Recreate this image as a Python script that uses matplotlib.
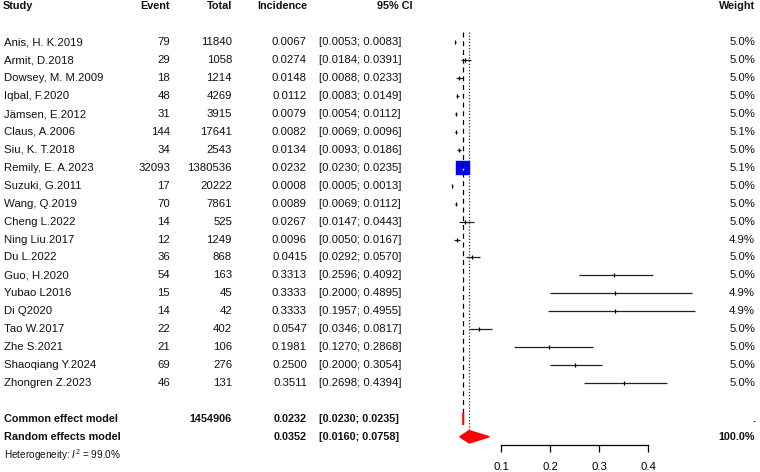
import numpy as np
import matplotlib.pyplot as plt

studies = ["Anis, H. K.2019", "Armit, D.2018", "Dowsey, M. M.2009", "Iqbal, F.2020",
           "Jämsen, E.2012", "Claus, A.2006", "Siu, K. T.2018", "Remily, E. A.2023",
           "Suzuki, G.2011", "Wang, Q.2019", "Cheng L.2022", "Ning Liu.2017", "Du L.2022",
           "Guo, H.2020", "Yubao L2016", "Di Q2020", "Tao W.2017", "Zhe S.2021",
           "Shaoqiang Y.2024", "Zhongren Z.2023"]
events = [79, 29, 18, 48, 31, 144, 34, 32093, 17, 70, 14, 12, 36, 54, 15, 14, 22, 21, 69, 46]
totals = [11840, 1058, 1214, 4269, 3915, 17641, 2543, 1380536, 20222, 7861, 525, 1249, 868,
          163, 45, 42, 402, 106, 276, 131]
incidence = [0.0067, 0.0274, 0.0148, 0.0112, 0.0079, 0.0082, 0.0134, 0.0232, 0.0008, 0.0089,
             0.0267, 0.0096, 0.0415, 0.3313, 0.3333, 0.3333, 0.0547, 0.1981, 0.2500, 0.3511]
ci_lower = [0.0053, 0.0184, 0.0088, 0.0083, 0.0054, 0.0069, 0.0093, 0.0230, 0.0005, 0.0069,
            0.0147, 0.0050, 0.0292, 0.2596, 0.2000, 0.1957, 0.0346, 0.1270, 0.2000, 0.2698]
ci_upper = [0.0083, 0.0391, 0.0233, 0.0149, 0.0112, 0.0096, 0.0186, 0.0235, 0.0013, 0.0112,
            0.0443, 0.0167, 0.0570, 0.4092, 0.4895, 0.4955, 0.0817, 0.2868, 0.3054, 0.4394]
weights = [5.0, 5.0, 5.0, 5.0, 5.0, 5.1, 5.0, 5.1, 5.0, 5.0, 5.0, 4.9, 5.0, 5.0, 4.9, 4.9,
           5.0, 5.0, 5.0, 5.0]

common = dict(total=1454906, est=0.0232, lo=0.0230, hi=0.0235)
random_ = dict(est=0.0352, lo=0.0160, hi=0.0758)
i2 = 99.0
xticks = [0.1, 0.2, 0.3, 0.4]

plt.rcParams['font.family'] = ['Liberation Sans', 'DejaVu Sans']
plt.rcParams['mathtext.fontset'] = 'custom'
plt.rcParams['mathtext.rm'] = 'Liberation Sans'
plt.rcParams['mathtext.it'] = 'Liberation Sans:italic'

W, H = 760, 472
FS = 8.2
FS_BOLD = 7.8
row0, row_h = 42.3, 17.93     # pixel centre of first study row, row height
axis_y = 444.5                # pixel position of the x axis line
zero_x, px_per_unit = 452.0, 490.0

fig = plt.figure(figsize=(W / 100, H / 100), dpi=100)
ax = fig.add_axes([0, (H - axis_y) / H, 1, axis_y / H])
ax.set_xlim(-zero_x / px_per_unit, (W - zero_x) / px_per_unit)
ax.set_ylim((axis_y - row0) / row_h, -row0 / row_h)

tr = ax.get_yaxis_transform()


def put(xpx, row, s, ha, bold=False, size=None):
    if size is None:
        size = FS_BOLD if bold else FS
    ax.text(xpx / W, row, s, transform=tr, ha=ha, va='center', fontsize=size,
            fontweight='bold' if bold else 'normal', color='#111111')


# header
hdr = -2
put(3, hdr, "Study", 'left', True)
put(170, hdr, "Event", 'right', True)
put(232, hdr, "Total", 'right', True)
put(307, hdr, "Incidence", 'right', True)
put(377, hdr, "95% CI", 'left', True)
put(755, hdr, "Weight", 'right', True)

# study rows
common_w = [e * (1 - e / n) for e, n in zip(events, totals)]
wmax = max(common_w)
for i, name in enumerate(studies):
    put(4, i, name, 'left')
    put(170, i, str(events[i]), 'right')
    put(232, i, str(totals[i]), 'right')
    put(307, i, f"{incidence[i]:.4f}", 'right')
    put(319, i, f"[{ci_lower[i]:.4f}; {ci_upper[i]:.4f}]", 'left')
    put(755, i, f"{weights[i]:.1f}%", 'right')

    side = 10.2 * np.sqrt(common_w[i] / wmax)   # points
    ci_pts = (ci_upper[i] - ci_lower[i]) * px_per_unit * 0.72
    if ci_pts > side:
        ax.plot([ci_lower[i], ci_upper[i]], [i, i], color='#222222', lw=0.9,
                solid_capstyle='butt')
    ax.plot(incidence[i], i, marker='s', ms=side, color='#0000ff', mec='#0000ff', mew=0.3)
    ax.plot(incidence[i], i, marker='|', ms=3.2, mew=0.9,
            color='white' if side > ci_pts else 'black')

# summary rows
rc, rr = 21, 22
put(4, rc, "Common effect model", 'left', True)
put(232, rc, str(common['total']), 'right', True)
put(307, rc, f"{common['est']:.4f}", 'right', True)
put(319, rc, f"[{common['lo']:.4f}; {common['hi']:.4f}]", 'left', True)
put(755, rc, ".", 'right', True)

put(4, rr, "Random effects model", 'left', True)
put(307, rr, f"{random_['est']:.4f}", 'right', True)
put(319, rr, f"[{random_['lo']:.4f}; {random_['hi']:.4f}]", 'left', True)
put(755, rr, "100.0%", 'right', True)

put(4, 23, rf"Heterogeneity: $I^2$ = {i2:.1f}%", 'left', size=7.2)

hh = 0.34
for r, d in [(rc, common), (rr, random_)]:
    ax.fill([d['lo'], d['est'], d['hi'], d['est']], [r, r - hh, r, r + hh],
            facecolor='#ff0000', edgecolor='#ff0000', lw=1.1, zorder=3)

ax.vlines(common['est'], -0.55, rc - hh, colors='black', lw=0.9, linestyles=(0, (4, 3)))
ax.vlines(random_['est'], -0.55, rr - hh, colors='#333333', lw=0.9, linestyles=(0, (1, 1.5)))

for s in ['top', 'left', 'right']:
    ax.spines[s].set_visible(False)
ax.spines['bottom'].set_bounds(xticks[0], xticks[-1])
ax.spines['bottom'].set_linewidth(0.9)
ax.set_xticks(xticks)
ax.set_xticklabels([f"{t:.1f}" for t in xticks])
ax.set_yticks([])
ax.tick_params(axis='x', direction='out', length=5, width=0.9, pad=7.5, labelsize=FS)
ax.patch.set_visible(False)

fig.savefig('out.png', dpi=100)
